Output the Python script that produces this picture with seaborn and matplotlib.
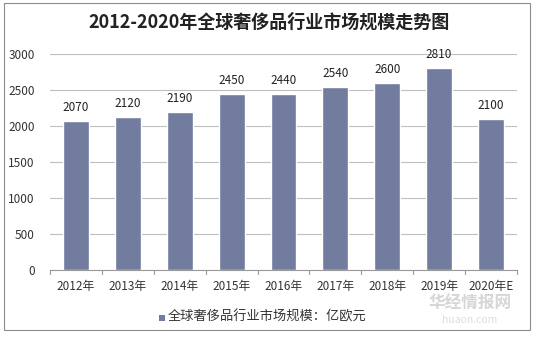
import matplotlib
matplotlib.use("Agg")
import matplotlib.pyplot as plt
import seaborn as sns
import pandas as pd
from matplotlib.patches import Rectangle
from matplotlib.lines import Line2D

years = ["2012年", "2013年", "2014年", "2015年", "2016年", "2017年", "2018年", "2019年", "2020年E"]
values = [2070, 2120, 2190, 2450, 2440, 2540, 2600, 2810, 2100]
series_name = "全球奢侈品行业市场规模：亿欧元"
title = "2012-2020年全球奢侈品行业市场规模走势图"
yticks = [0, 500, 1000, 1500, 2000, 2500, 3000]

sns.set_theme(style="white")
plt.rcParams["font.family"] = ["Noto Sans CJK SC", "DejaVu Sans"]

df = pd.DataFrame({"year": years, "value": values})
bar_color = "#717c9f"

fig = plt.figure(figsize=(5.38, 3.37), dpi=100)
ax = fig.add_axes([50/538, 1-270/337, (517-50)/538, (270-54)/337])

sns.barplot(data=df, x="year", y="value", color=bar_color, width=0.5,
            saturation=1, ax=ax, zorder=3)

ax.set_ylim(0, 3000)
ax.set_xlim(-0.5, len(years)-0.5)
ax.set_yticks(yticks)
ax.set_yticklabels([str(v) for v in yticks], fontsize=8.5, color="#333333")
ax.yaxis.grid(True, color="#bfbfbf", linewidth=0.8, zorder=0)
ax.set_xlabel("")
ax.set_ylabel("")
ax.tick_params(axis="y", length=0, pad=11)

ax.set_xticks(range(len(years)))
ax.set_xticklabels(years, fontsize=8.5, color="#333333")
ax.tick_params(axis="x", length=0, pad=7)
for b in [i - 0.5 for i in range(len(years)+1)]:
    ax.add_line(Line2D([b, b], [0, -0.018], transform=ax.get_xaxis_transform(),
                       color="#999999", linewidth=0.8, clip_on=False))

for s in ["left", "right", "top"]:
    ax.spines[s].set_visible(False)
ax.spines["bottom"].set_color("#999999")
ax.spines["bottom"].set_linewidth(0.8)

for i, v in enumerate(values):
    ax.annotate(str(v), (i, v), xytext=(0, 5), textcoords="offset points",
                ha="center", va="bottom", fontsize=8.5, color="#222222")

fig.text(0.5, 1-22/337, title, ha="center", va="center", fontsize=13,
         color="#222222", fontweight="bold")

# legend
fig.patches.append(Rectangle((159/538, 1-321/337), 6/538, 6/337, transform=fig.transFigure,
                             facecolor=bar_color, edgecolor="none"))
fig.text(168/538, 1-317/337, series_name, ha="left", va="center", fontsize=9.5,
         color="#333333")

# watermark
fig.text(470/538, 1-304/337, "华经情报网", ha="center", va="center", fontsize=12,
         color="#cccccc", alpha=0.8, fontweight="bold")
fig.text(470/538, 1-320/337, "huaon.com", ha="center", va="center", fontsize=7.5,
         color="#d5d5d5", alpha=0.8)

# outer border
fig.patches.append(Rectangle((4/538, 1-330/337), 526/538, 327/337, transform=fig.transFigure,
                             facecolor="none", edgecolor="#8c8c8c", linewidth=0.8))

fig.savefig("out.png", dpi=100)
